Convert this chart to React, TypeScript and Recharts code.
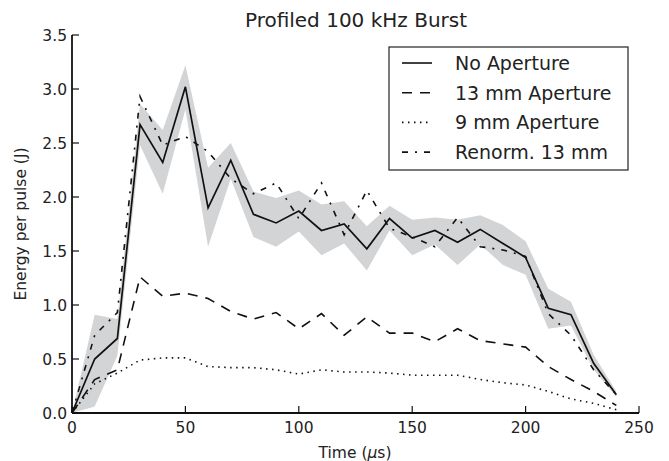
import React from 'react';
import { ComposedChart, Line, Area, XAxis, YAxis } from 'recharts';

const time = [0, 10, 20, 30, 40, 50, 60, 70, 80, 90, 100, 110, 120, 130, 140, 150, 160, 170, 180, 190, 200, 210, 220, 230, 240];
const noAperture = [0, 0.5, 0.69, 2.67, 2.32, 3.02, 1.9, 2.34, 1.84, 1.76, 1.87, 1.69, 1.75, 1.52, 1.8, 1.62, 1.69, 1.58, 1.7, 1.57, 1.44, 0.97, 0.91, 0.46, 0.17];
const bandLow = [0, 0.06, 0.53, 2.48, 2.03, 2.81, 1.54, 2.17, 1.63, 1.54, 1.68, 1.46, 1.57, 1.32, 1.69, 1.46, 1.56, 1.37, 1.56, 1.37, 1.28, 0.78, 0.81, 0.4, 0.15];
const bandHigh = [0, 0.91, 0.87, 2.86, 2.62, 3.22, 2.27, 2.5, 2.05, 1.99, 2.06, 1.93, 1.96, 1.73, 1.92, 1.79, 1.81, 1.79, 1.83, 1.74, 1.59, 1.15, 1.03, 0.54, 0.2];
const ap13 = [0, 0.31, 0.4, 1.26, 1.08, 1.11, 1.06, 0.94, 0.87, 0.93, 0.78, 0.92, 0.72, 0.89, 0.74, 0.74, 0.66, 0.78, 0.67, 0.64, 0.61, 0.43, 0.31, 0.2, 0.07];
const ap9 = [0, 0.27, 0.37, 0.49, 0.51, 0.51, 0.43, 0.42, 0.42, 0.4, 0.36, 0.4, 0.38, 0.38, 0.37, 0.35, 0.35, 0.35, 0.31, 0.28, 0.26, 0.2, 0.13, 0.09, 0.03];
const renorm = [0, 0.72, 0.93, 2.93, 2.48, 2.56, 2.42, 2.17, 2.03, 2.13, 1.8, 2.13, 1.65, 2.06, 1.71, 1.63, 1.54, 1.81, 1.54, 1.51, 1.45, 0.92, 0.72, 0.4, 0.17];

const xTicks = [0, 50, 100, 150, 200, 250];
const yTicks = [0, 0.5, 1, 1.5, 2, 2.5, 3, 3.5];

const title = 'Profiled 100 kHz Burst';
const xLabel = 'Time (';
const yLabel = 'Energy per pulse (J)';

const legendItems = [
  { label: 'No Aperture', dash: undefined as string | undefined },
  { label: '13 mm Aperture', dash: '10 8' },
  { label: '9 mm Aperture', dash: '1.5 4.5' },
  { label: 'Renorm. 13 mm', dash: '6 7 2 7' },
];

const data = time.map((t, i) => ({
  t,
  noAp: noAperture[i],
  band: [bandLow[i], bandHigh[i]],
  ap13: ap13[i],
  ap9: ap9[i],
  renorm: renorm[i],
}));

const FONT = '"DejaVu Sans", sans-serif';
const TXT = '#222';
const TL = 7;

const BottomTick = (props: any) => {
  const { x, y, payload } = props;
  return (
    <g>
      <line x1={x} x2={x} y1={y} y2={y - TL} stroke="#111" strokeWidth={1.2} />
      <text x={x} y={y + 20} textAnchor="middle" fontFamily={FONT} fontSize={15.5} fill={TXT}>
        {payload.value}
      </text>
    </g>
  );
};
const TopTick = (props: any) => {
  const { x, y } = props;
  return <line x1={x} x2={x} y1={y} y2={y + TL} stroke="#111" strokeWidth={1.2} />;
};
const LeftTick = (props: any) => {
  const { x, y, payload } = props;
  return (
    <g>
      <line x1={x} x2={x + TL} y1={y} y2={y} stroke="#111" strokeWidth={1.2} />
      <text x={x - 5} y={y + 5.6} textAnchor="end" fontFamily={FONT} fontSize={15.5} fill={TXT}>
        {Number(payload.value).toFixed(1)}
      </text>
    </g>
  );
};
const RightTick = (props: any) => {
  const { x, y } = props;
  return <line x1={x} x2={x - TL} y1={y} y2={y} stroke="#111" strokeWidth={1.2} />;
};

const axisLine = { stroke: '#111', strokeWidth: 1.8 };

export default function App() {
  return (
    <div style={{ position: 'absolute', left: 0, top: 0, width: 669, height: 461, background: '#fff' }}>
      <ComposedChart
        width={669}
        height={461}
        data={data}
        margin={{ top: 35, right: 30, bottom: 0, left: 0 }}
      >
        <XAxis
          xAxisId="b"
          dataKey="t"
          type="number"
          domain={[0, 250]}
          ticks={xTicks}
          orientation="bottom"
          height={48}
          tickSize={0}
          tickMargin={0}
          tickLine={false}
          axisLine={axisLine}
          tick={<BottomTick />}
          interval={0}
        />
        <XAxis
          xAxisId="top"
          dataKey="t"
          type="number"
          domain={[0, 250]}
          ticks={xTicks}
          orientation="top"
          height={0}
          tickSize={0}
          tickMargin={0}
          tickLine={false}
          axisLine={axisLine}
          tick={<TopTick />}
          interval={0}
        />
        <YAxis
          yAxisId="l"
          type="number"
          domain={[0, 3.5]}
          ticks={yTicks}
          width={72}
          tickSize={0}
          tickMargin={0}
          tickLine={false}
          axisLine={axisLine}
          tick={<LeftTick />}
          interval={0}
        />
        <YAxis
          yAxisId="r"
          orientation="right"
          type="number"
          domain={[0, 3.5]}
          ticks={yTicks}
          width={0}
          tickSize={0}
          tickMargin={0}
          tickLine={false}
          axisLine={axisLine}
          tick={<RightTick />}
          interval={0}
        />
        <Area
          xAxisId="b"
          yAxisId="l"
          dataKey="band"
          type="linear"
          stroke="none"
          fill="#d3d4d6"
          fillOpacity={1}
          isAnimationActive={false}
          dot={false}
          activeDot={false}
        />
        <Line xAxisId="b" yAxisId="l" dataKey="ap9" type="linear" stroke="#111" strokeWidth={1.6} strokeDasharray="1.5 4.5" dot={false} activeDot={false} isAnimationActive={false} />
        <Line xAxisId="b" yAxisId="l" dataKey="ap13" type="linear" stroke="#111" strokeWidth={1.6} strokeDasharray="10 8" dot={false} activeDot={false} isAnimationActive={false} />
        <Line xAxisId="b" yAxisId="l" dataKey="renorm" type="linear" stroke="#111" strokeWidth={1.6} strokeDasharray="6 7 2 7" dot={false} activeDot={false} isAnimationActive={false} />
        <Line xAxisId="b" yAxisId="l" dataKey="noAp" type="linear" stroke="#111" strokeWidth={1.7} dot={false} activeDot={false} isAnimationActive={false} />
      </ComposedChart>
      <svg
        width={669}
        height={461}
        style={{ position: 'absolute', left: 0, top: 0, pointerEvents: 'none' }}
      >
        <text x={356} y={27} textAnchor="middle" fontFamily={FONT} fontSize={20} fill={TXT}>
          {title}
        </text>
        <text x={355} y={458} textAnchor="middle" fontFamily={FONT} fontSize={15.5} fill={TXT}>
          {xLabel}
          <tspan fontStyle="italic">μ</tspan>
          {'s)'}
        </text>
        <text
          x={0}
          y={0}
          transform="translate(26,224) rotate(-90)"
          textAnchor="middle"
          fontFamily={FONT}
          fontSize={15.5}
          fill={TXT}
        >
          {yLabel}
        </text>
        <rect x={389} y={47} width={239} height={123} fill="#fff" stroke="#222" strokeWidth={1.2} />
        {legendItems.map((it, i) => {
          const cy = 63 + i * 29.7;
          return (
            <g key={it.label}>
              <line x1={402} x2={432} y1={cy} y2={cy} stroke="#111" strokeWidth={1.6} strokeDasharray={it.dash} />
              <text x={455} y={cy + 7} fontFamily={FONT} fontSize={19} fill={TXT}>
                {it.label}
              </text>
            </g>
          );
        })}
      </svg>
    </div>
  );
}
